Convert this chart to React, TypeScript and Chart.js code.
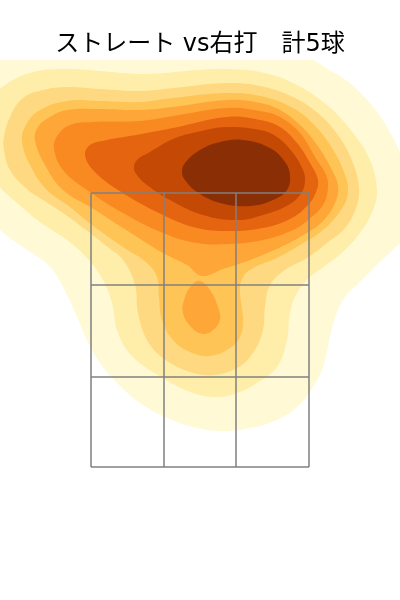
import React, { useEffect, useRef } from "react";
import { Chart, registerables } from "chart.js";

Chart.register(...registerables);

const titleText = "ストレート vs右打　計5球";
// Density bands, outermost first: each band is a closed ring of [horizontal, height] readings.
const band1 = [[112,540],[143,522],[170,497],[190,468],[205,435],[218,400],[215,372],[200,357],[177,335],[160,318],[145,303],[136,285],[130,263],[123,233],[113,213],[97,193],[77,180],[50,172],[23,169],[-3,172],[-33,182],[-60,197],[-83,217],[-100,237],[-113,260],[-123,283],[-133,305],[-150,333],[-183,357],[-200,370],[-230,400],[-245,470],[-230,540],[-150,570],[0,575],[90,555]];
const band2 = [[-167,528],[-133,531],[-100,529],[-55,526],[-3,530],[27,531],[60,528],[93,517],[127,495],[153,467],[170,440],[177,410],[173,390],[162,370],[145,350],[125,334],[110,323],[97,307],[90,287],[87,260],[77,233],[57,217],[37,207],[17,203],[-7,207],[-37,222],[-67,243],[-82,267],[-88,297],[-97,320],[-113,342],[-133,360],[-160,378],[-183,397],[-200,413],[-215,435],[-220,470],[-212,497],[-195,515]];
const band3 = [[-196,463],[-190,483],[-177,502],[-157,510],[-133,513],[-100,511],[-60,509],[-27,512],[27,517],[60,514],[93,503],[120,485],[140,462],[153,437],[159,412],[156,392],[145,372],[127,357],[107,342],[85,330],[70,315],[65,293],[63,270],[53,247],[37,232],[13,225],[-10,228],[-37,242],[-53,260],[-62,287],[-65,315],[-77,340],[-95,355],[-110,367],[-137,387],[-157,400],[-172,410],[-190,430],[-196,450]];
const band4 = [[-178,460],[-173,477],[-160,490],[-133,499],[-100,499],[-60,498],[-27,502],[27,507],[60,504],[93,492],[117,472],[135,447],[145,425],[148,410],[143,393],[123,370],[100,355],[77,342],[53,332],[43,323],[40,310],[43,280],[40,263],[30,252],[10,244],[-10,248],[-27,260],[-38,280],[-41,303],[-43,323],[-53,337],[-77,353],[-108,375],[-130,393],[-153,410],[-170,435]];
const band5Main = [[-165,460],[-162,473],[-150,483],[-133,490],[-100,491],[-60,490],[-27,493],[27,500],[60,497],[80,490],[100,475],[117,455],[132,430],[138,414],[135,397],[122,378],[105,366],[83,354],[50,340],[23,331],[2,324],[-13,335],[-37,347],[-77,372],[-108,392],[-137,410],[-155,435]];
const band5Drop = [[0,319],[10,310],[18,293],[20,280],[13,270],[3,266],[-8,272],[-17,287],[-15,303],[-8,315]];
const band6 = [[-146,452],[-142,465],[-130,475],[-107,478],[-60,479],[-27,484],[27,492],[60,489],[80,483],[100,467],[115,443],[126,425],[128,412],[123,395],[108,380],[93,370],[63,360],[30,356],[-3,357],[-37,367],[-77,387],[-113,410],[-137,430]];
const band7 = [[-115,445],[-110,455],[-93,460],[-70,464],[-27,472],[27,483],[60,480],[80,473],[97,457],[110,437],[118,420],[116,408],[108,395],[90,381],[63,372],[30,369],[-3,372],[-37,385],[-82,410],[-107,430]];
const band8 = [[-66,432],[-63,440],[-50,448],[-27,461],[-3,468],[27,473],[60,470],[77,463],[93,447],[103,430],[105,420],[102,408],[90,396],[63,385],[37,380],[3,385],[-30,400],[-53,415],[-63,425]];
const band9 = [[-18,428],[-15,437],[0,450],[20,458],[43,460],[70,452],[85,438],[90,425],[87,410],[73,400],[50,394],[20,397],[-3,408],[-15,420]];
const gridXs = [-109, -36, 36, 109];
const gridYs = [407, 315, 223, 133];
const xRange = [-200, 200];
const yRange = [0, 540];

const bands = [
  { points: band1, color: "#fffad5" },
  { points: band2, color: "#feeeaa" },
  { points: band3, color: "#fed982" },
  { points: band4, color: "#fec455" },
  { points: band5Main, color: "#fea638" },
  { points: band5Drop, color: "#fea638" },
  { points: band6, color: "#f98a22" },
  { points: band7, color: "#e5640f" },
  { points: band8, color: "#c44904" },
  { points: band9, color: "#8a2e05" },
];

// Overlap the ring's ends so the curve stays smooth at the seam.
const closeLoop = (p: number[][]) =>
  [p[p.length - 1], ...p, p[0], p[1]].map(([x, y]) => ({ x, y }));

export default function App() {
  const ref = useRef<HTMLCanvasElement>(null);
  useEffect(() => {
    document.body.style.margin = "0";
    const top = gridYs[0];
    const bottom = gridYs[gridYs.length - 1];
    const left = gridXs[0];
    const right = gridXs[gridXs.length - 1];
    const gridLines = [
      ...gridXs.map((x) => [{ x, y: top }, { x, y: bottom }]),
      ...gridYs.map((y) => [{ x: left, y }, { x: right, y }]),
    ];
    const chart = new Chart(ref.current!, {
      type: "scatter",
      data: {
        datasets: [
          ...bands.map((b, i) => ({
            data: closeLoop(b.points),
            showLine: true,
            tension: 0.4,
            fill: "shape",
            backgroundColor: b.color,
            borderWidth: 0,
            pointRadius: 0,
            order: 100 - i,
          })),
          ...gridLines.map((data) => ({
            data,
            showLine: true,
            fill: false,
            borderColor: "#808080",
            borderWidth: 1.5,
            pointRadius: 0,
            order: 0,
          })),
        ],
      },
      options: {
        responsive: false,
        animation: false,
        layout: { padding: 0 },
        scales: {
          x: { display: false, min: xRange[0], max: xRange[1] },
          y: { display: false, min: yRange[0], max: yRange[1] },
        },
        plugins: {
          legend: { display: false },
          tooltip: { enabled: false },
          title: {
            display: true,
            text: titleText,
            color: "#000000",
            font: { family: "'DejaVu Sans', 'Noto Sans CJK JP'", size: 24, weight: "normal", lineHeight: 1.2 },
            padding: { top: 30.6, bottom: 0.6 },
          },
        },
      },
    } as any);
    return () => chart.destroy();
  }, []);
  return <canvas ref={ref} width={400} height={600} style={{ display: "block" }} />;
}
